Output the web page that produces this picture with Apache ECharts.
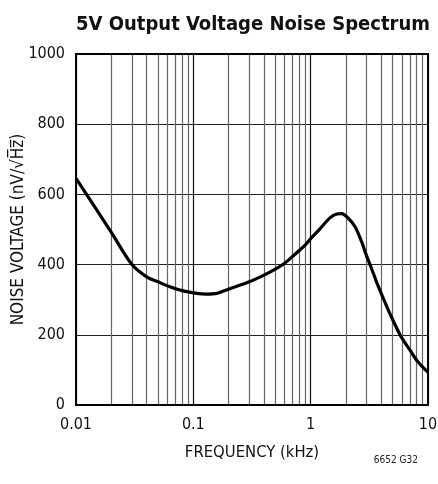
<!DOCTYPE html>
<html>
<head>
<meta charset="utf-8">
<script src="https://cdn.jsdelivr.net/npm/echarts@6/dist/echarts.min.js"></script>
<style>
html,body{margin:0;padding:0;background:#fff;}
#chart{width:438px;height:484px;}
</style>
</head>
<body>
<div id="chart"></div>
<script>
// Data
var freqKHz = [0.01, 0.02, 0.03, 0.04, 0.05, 0.063, 0.082, 0.107, 0.13, 0.158, 0.2, 0.3, 0.4, 0.5, 0.6, 0.7, 0.8, 0.9, 1.0, 1.2, 1.46, 1.67, 1.84, 2.09, 2.39, 2.72, 2.98, 3.3, 3.64, 4.1, 4.8, 5.8, 7.0, 8.2, 10];
var noiseNV = [646, 492, 400, 365, 351, 337, 325, 318, 316, 318, 330, 351, 370, 387, 404, 423, 440, 456, 474, 502, 533, 544, 545, 532, 508, 465, 427, 389, 351, 309, 256, 199, 157, 123, 93];
var xTickLabels = ['0.01', '0.1', '1', '10'];
var yTicks = [0, 200, 400, 600, 800, 1000];
var minorGridFreqs = [0.02,0.03,0.04,0.05,0.06,0.07,0.08,0.09,0.2,0.3,0.4,0.5,0.6,0.7,0.8,0.9,2,3,4,5,6,7,8,9];

var FONT = '"DejaVu Sans Condensed", "Liberation Sans Narrow", "Liberation Sans", sans-serif';
var chart = echarts.init(document.getElementById('chart'), null, {renderer: 'canvas'});
var lineData = freqKHz.map(function (f, i) { return [f, noiseNV[i]]; });

chart.setOption({
  animation: false,
  backgroundColor: '#fff',
  title: {
    text: '5V Output Voltage Noise Spectrum',
    left: 248, top: 10, textAlign: 'center',
    textStyle: {fontFamily: FONT, fontWeight: 'bold', fontSize: 20, color: '#111'}
  },
  grid: {left: 76, right: 10, top: 54, bottom: 79, show: false, containLabel: false, outerBoundsMode: 'none'},
  xAxis: {
    type: 'log', logBase: 10, min: 0.01, max: 10,
    name: 'FREQUENCY (kHz)', nameLocation: 'middle', nameGap: 39,
    nameTextStyle: {fontFamily: FONT, fontSize: 16.5, color: '#111'},
    axisLine: {show: true, onZero: false, lineStyle: {color: '#000', width: 2}},
    axisTick: {show: false},
    axisLabel: {
      fontFamily: FONT, fontSize: 16, color: '#111', margin: 12,
      formatter: function (v) {
        var e = Math.round(Math.log10(v)) + 2;
        return xTickLabels[e] !== undefined ? xTickLabels[e] : '';
      }
    },
    splitLine: {show: true, lineStyle: {color: '#111', width: 1.2}},
    minorTick: {show: false}, minorSplitLine: {show: false}
  },
  yAxis: {
    type: 'value', min: yTicks[0], max: yTicks[yTicks.length - 1], interval: 200,
    name: 'NOISE VOLTAGE (nV/\u221AH\u0305z\u0305)', nameLocation: 'middle', nameGap: 49,
    nameMoveOverlap: false,
    nameTextStyle: {fontFamily: FONT, fontSize: 17, color: '#111'},
    axisLine: {show: true, lineStyle: {color: '#000', width: 2}},
    axisTick: {show: false},
    axisLabel: {fontFamily: FONT, fontSize: 16, color: '#111', margin: 11,
      formatter: function (v) { return String(v); }},
    splitLine: {show: true, lineStyle: {color: '#222', width: 1.2}}
  },
  graphic: [
    {type: 'rect', shape: {x: 76, y: 54, width: 352, height: 351}, style: {fill: 'none', stroke: '#000', lineWidth: 2}, z: 100},
    {type: 'text', right: 20, top: 455, style: {text: '6652 G32', font: '10px ' + FONT, fill: '#222'}}
  ],
  series: [
    {
      type: 'line', data: [], silent: true,
      markLine: {
        silent: true, symbol: 'none', label: {show: false},
        lineStyle: {color: '#666', width: 1.2, type: 'solid'},
        data: minorGridFreqs.map(function (f) { return {xAxis: f}; })
      }
    },
    {
      type: 'line', data: lineData, smooth: 0.3, showSymbol: false,
      lineStyle: {color: '#000', width: 3.2}, z: 10, clip: true
    }
  ]
});
</script>
</body>
</html>
